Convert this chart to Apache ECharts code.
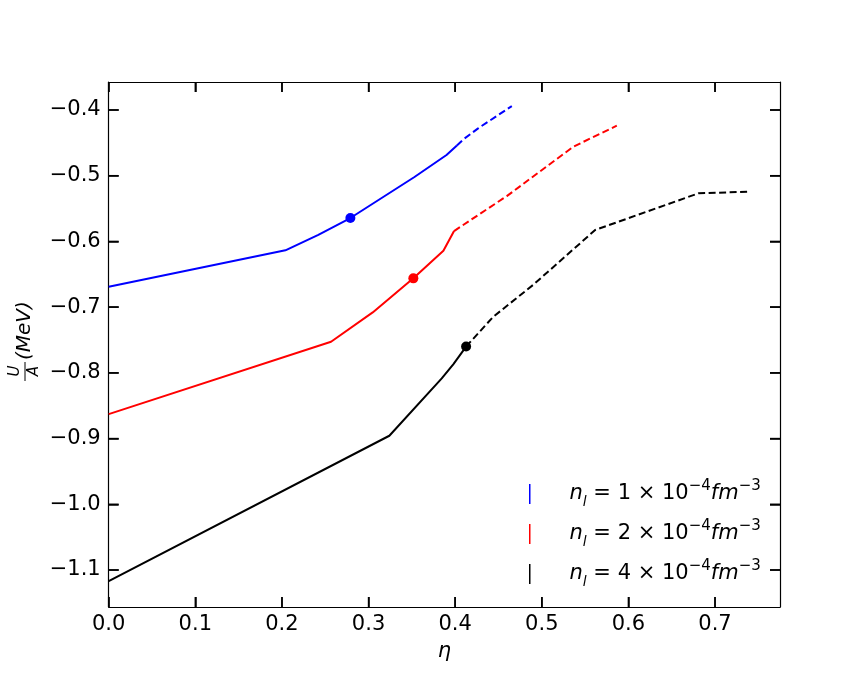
<!DOCTYPE html>
<html>
<head>
<meta charset="utf-8">
<script src="https://cdn.jsdelivr.net/npm/echarts@6/dist/echarts.min.js"></script>
<style>
  html, body { margin: 0; padding: 0; background: #fff; }
  #chart { width: 867px; height: 682px; }
</style>
</head>
<body>
<div id="chart"></div>
<script>
// eta, U/A (MeV)
var blueSolid = [[0, -0.669], [0.204, -0.6135], [0.242, -0.590], [0.279, -0.5644], [0.353, -0.502], [0.390, -0.4685], [0.402, -0.454]]
var blueDashed = [[0.402, -0.454], [0.4095, -0.4446], [0.4265, -0.4279], [0.4654, -0.394]]
var blueMark = [[0.279, -0.5644]]

var redSolid = [[0, -0.8628], [0.2567, -0.7527], [0.3048, -0.708], [0.3517, -0.6562], [0.3864, -0.6142], [0.3987, -0.5842]]
var redDashed = [[0.3987, -0.5842], [0.4596, -0.531], [0.5365, -0.4558], [0.5866, -0.4239]]
var redMark = [[0.3517, -0.6562]]

var blackSolid = [[0, -1.1169], [0.324, -0.8957], [0.3845, -0.8084], [0.398, -0.7866], [0.4126, -0.760]]
var blackDashed = [[0.4126, -0.760], [0.444, -0.7146], [0.4903, -0.6658], [0.5616, -0.5826], [0.6808, -0.5268], [0.7405, -0.5243]]
var blackMark = [[0.4126, -0.760]]

var legendNames = ['n1', 'n2', 'n4']
var legendCoef = ['1', '2', '4']

var xTicks = [0, 0.1, 0.2, 0.3, 0.4, 0.5, 0.6, 0.7]
var yTicks = [-1.1, -1.0, -0.9, -0.8, -0.7, -0.6, -0.5, -0.4]

var X_MIN = 0, X_MAX = 0.775
var Y_MIN = -1.1563, Y_MAX = -0.3574
var FONT = 'DejaVu Sans'
var TICK_LEN = 10

var fmt = function (v) {
  return v.toFixed(1).replace('-', '\u2212')
}

var chart = echarts.init(document.getElementById('chart'))

var lineSeries = function (name, data, color, dashed) {
  return {
    name: name,
    type: 'line',
    data: data,
    symbol: 'none',
    color: color,
    lineStyle: { color: color, width: 2, type: dashed ? [7, 3.5] : 'solid' },
    z: 2
  }
}
var markSeries = function (name, data, color) {
  return {
    name: name,
    type: 'scatter',
    data: data,
    symbol: 'circle',
    symbolSize: 10,
    color: color,
    itemStyle: { color: color, opacity: 1 },
    z: 5
  }
}

// inward ticks on all four sides, placed through the axis scales
var tickStyle = { stroke: '#000', lineWidth: 1.5 }
var xTickSeries = {
  type: 'custom',
  silent: true,
  clip: false,
  z: 6,
  data: xTicks.map(function (v) { return [v, Y_MIN] }),
  renderItem: function (params, api) {
    var b = api.coord([api.value(0), Y_MIN])
    var t = api.coord([api.value(0), Y_MAX])
    return {
      type: 'group',
      children: [
        { type: 'line', shape: { x1: b[0], y1: b[1], x2: b[0], y2: b[1] - TICK_LEN }, style: tickStyle },
        { type: 'line', shape: { x1: t[0], y1: t[1], x2: t[0], y2: t[1] + TICK_LEN }, style: tickStyle }
      ]
    }
  }
}
var yTickSeries = {
  type: 'custom',
  silent: true,
  clip: false,
  z: 6,
  data: yTicks.map(function (v) { return [X_MIN, v] }),
  renderItem: function (params, api) {
    var l = api.coord([X_MIN, api.value(1)])
    var r = api.coord([X_MAX, api.value(1)])
    return {
      type: 'group',
      children: [
        { type: 'line', shape: { x1: l[0], y1: l[1], x2: l[0] + TICK_LEN, y2: l[1] }, style: tickStyle },
        { type: 'line', shape: { x1: r[0], y1: r[1], x2: r[0] - TICK_LEN, y2: r[1] }, style: tickStyle }
      ]
    }
  }
}

var mkLine = function () {
  return { show: true, onZero: false, lineStyle: { color: '#000', width: 1.2 } }
}
var mkTick = function (vals) {
  return { show: true, inside: true, length: TICK_LEN, customValues: vals, lineStyle: { color: '#000', width: 1.5 } }
}

var option = {
  animation: false,
  backgroundColor: '#fff',
  grid: { left: 108.7, right: 87, top: 82, bottom: 75 },
  xAxis: [{
    type: 'value',
    min: X_MIN, max: X_MAX,
    position: 'bottom',
    axisLine: mkLine(),
    splitLine: { show: false },
    name: 'η',
    nameLocation: 'middle',
    nameGap: 34,
    nameTextStyle: { fontFamily: FONT, fontSize: 21, fontStyle: 'italic', color: '#000' },
    axisTick: mkTick(xTicks),
    axisLabel: { show: true, customValues: xTicks, formatter: fmt, margin: 7, fontFamily: FONT, fontSize: 21, color: '#000' }
  }, {
    type: 'value',
    min: X_MIN, max: X_MAX,
    position: 'top',
    axisLine: mkLine(),
    splitLine: { show: false },
    axisTick: mkTick(xTicks),
    axisLabel: { show: false, customValues: xTicks }
  }],
  yAxis: [{
    type: 'value',
    min: Y_MIN, max: Y_MAX,
    position: 'left',
    axisLine: mkLine(),
    splitLine: { show: false },
    axisTick: mkTick(yTicks),
    axisLabel: { show: true, customValues: yTicks, formatter: fmt, margin: 8, fontFamily: FONT, fontSize: 21, color: '#000' }
  }, {
    type: 'value',
    min: Y_MIN, max: Y_MAX,
    position: 'right',
    axisLine: mkLine(),
    splitLine: { show: false },
    axisTick: mkTick(yTicks),
    axisLabel: { show: false, customValues: yTicks }
  }],
  legend: {
    orient: 'vertical',
    left: 524,
    top: 474,
    itemGap: 10,
    itemWidth: 1.5,
    itemHeight: 20,
    icon: 'rect',
    data: legendNames,
    formatter: function (name) {
      var c = legendCoef[legendNames.indexOf(name)]
      return '{pad| }{i|n}{sub|l}{t| = ' + c + ' × 10}{sup|\u22124}{i|fm}{sup|\u22123}'
    },
    textStyle: {
      fontFamily: FONT,
      color: '#000',
      rich: {
        pad: { width: 34, fontSize: 21, lineHeight: 30 },
        i: { fontFamily: FONT, fontStyle: 'italic', fontSize: 21, lineHeight: 30, color: '#000' },
        t: { fontFamily: FONT, fontSize: 21, lineHeight: 30, color: '#000' },
        sub: { fontFamily: FONT, fontStyle: 'italic', fontSize: 14, lineHeight: 14, verticalAlign: 'bottom', color: '#000' },
        sup: { fontFamily: FONT, fontSize: 15, lineHeight: 15, verticalAlign: 'top', color: '#000' }
      }
    }
  },
  graphic: [{
    type: 'group',
    x: 29,
    y: 360,
    rotation: Math.PI / 2,
    children: [
      { type: 'text', x: -11, y: -6, style: { text: 'U', fontFamily: FONT, fontStyle: 'italic', fontSize: 15, fill: '#000', align: 'center', verticalAlign: 'bottom' } },
      { type: 'line', shape: { x1: -21, y1: -4, x2: -2, y2: -4 }, style: { stroke: '#000', lineWidth: 1 } },
      { type: 'text', x: -11, y: -2, style: { text: 'A', fontFamily: FONT, fontStyle: 'italic', fontSize: 15, fill: '#000', align: 'center', verticalAlign: 'top' } },
      { type: 'text', x: 0, y: -4, style: { text: '(MeV)', fontFamily: FONT, fontStyle: 'italic', fontSize: 20, fill: '#000', align: 'left', verticalAlign: 'middle' } }
    ]
  }],
  series: [
    lineSeries('n1', blueSolid, '#0000ff', false),
    lineSeries('n1', blueDashed, '#0000ff', true),
    markSeries('n1', blueMark, '#0000ff'),
    lineSeries('n2', redSolid, '#ff0000', false),
    lineSeries('n2', redDashed, '#ff0000', true),
    markSeries('n2', redMark, '#ff0000'),
    lineSeries('n4', blackSolid, '#000000', false),
    lineSeries('n4', blackDashed, '#000000', true),
    markSeries('n4', blackMark, '#000000'),
    xTickSeries,
    yTickSeries
  ]
}
chart.setOption(option)
</script>
</body>
</html>
